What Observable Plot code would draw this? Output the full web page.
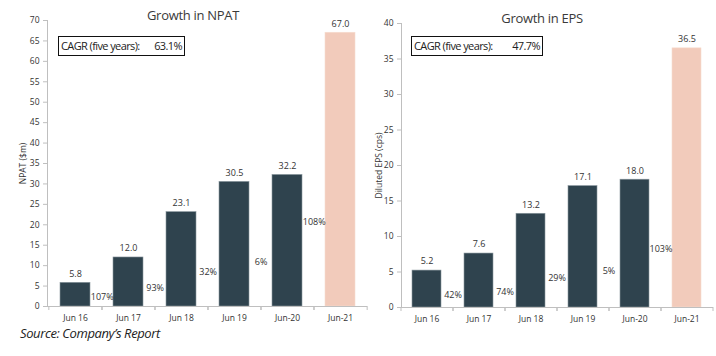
<!DOCTYPE html>
<html>
<head>
<meta charset="utf-8">
<script src="https://cdn.jsdelivr.net/npm/d3@7"></script>
<script src="https://cdn.jsdelivr.net/npm/@observablehq/plot@0.6"></script>
<style>
  body { margin: 0; background: #fff; }
  #wrap { position: relative; width: 716px; height: 356px; background: #fff; overflow: hidden; font-family: "Open Sans", sans-serif; }
  .pl { position: absolute; top: 0; }
  .title { position: absolute; font-size: 13px; letter-spacing: -0.3px; color: #3a3a3a; white-space: nowrap; transform: translateX(-50%); }
  .cagr { position: absolute; border: 1.5px solid #111; font-size: 11px; letter-spacing: -0.6px; color: #222; box-sizing: border-box; height: 20px; line-height: 17px; padding: 0 2px; }
  .cagr span.v { position: absolute; right: 2px; }
  .cap { position: absolute; left: 20px; top: 324px; font-style: italic; font-size: 13px; letter-spacing: -0.4px; color: #222; }
</style>
</head>
<body>
<div id="wrap"></div>
<script>
const years = ["Jun 16", "Jun 17", "Jun 18", "Jun 19", "Jun-20", "Jun-21"];
const npat = [5.8, 12.0, 23.1, 30.5, 32.2, 67.0];
const npatGrowth = ["107%", "93%", "32%", "6%", "108%"];
const npatGrowthAt = [2.2, 4.6, 8.3, 10.8, 20.6];
const eps = [5.2, 7.6, 13.2, 17.1, 18.0, 36.5];
const epsGrowth = ["42%", "74%", "29%", "5%", "103%"];
const epsGrowthAt = [1.7, 2.1, 4.2, 5.1, 8.2];
const npatTicks = [0, 5, 10, 15, 20, 25, 30, 35, 40, 45, 50, 55, 60, 65, 70];
const epsTicks = [0, 5, 10, 15, 20, 25, 30, 35, 40];
const npatCagr = "63.1%";
const epsCagr = "47.7%";

const dark = "#2f434e", peach = "#f2cbbb", axisGrey = "#bfbfbf";

function chart({values, growth, growthAt, ticks, ymax, label, width, ml, mr, mt, mb, lo}) {
  const height = 330;
  const step = (width - ml - mr) / years.length;
  const rows = years.map((y, i) => ({year: y, v: values[i], last: i === years.length - 1}));
  const grows = growth.map((g, i) => ({year: years[i], g, at: growthAt[i]}));
  return Plot.plot({
    width, height,
    marginLeft: ml, marginRight: mr, marginTop: mt, marginBottom: mb,
    style: {fontFamily: "Open Sans, sans-serif", fontSize: "9px", color: "#333", background: "transparent"},
    x: {domain: years, paddingInner: 0.44, paddingOuter: 0.22, label: null},
    y: {domain: [0, ymax], label: null},
    marks: [
      Plot.barY(rows, {x: "year", y: "v", fill: d => d.last ? peach : dark, stroke: d => d.last ? "#f6dccf" : "#8a979e", strokeWidth: 0.6}),
      Plot.text(rows, {x: "year", y: "v", text: d => d.v.toFixed(1), dy: -9, fontSize: 9, fill: "#333"}),
      Plot.text(grows, {x: "year", y: "at", text: "g", dx: step / 2, fontSize: 9, fill: "#333"}),
      Plot.ruleY([0], {stroke: axisGrey, strokeWidth: 1}),
      Plot.frame({anchor: "left", stroke: axisGrey}),
      Plot.axisY({ticks, tickSize: 4, tickPadding: 4, stroke: axisGrey, fill: "#333", fontSize: 8.5,
        label, labelAnchor: "center", labelArrow: "none", labelOffset: lo}),
      Plot.axisX({tickSize: 0, tickPadding: 8, fontSize: 8.5, fill: "#333"}),
      Plot.axisX({tickSize: 4, text: null, stroke: axisGrey, dx: -step / 2}),
      Plot.axisX({tickSize: 4, text: null, stroke: axisGrey, dx: step / 2})
    ]
  });
}

const wrap = document.getElementById("wrap");

const left = chart({values: npat, growth: npatGrowth, growthAt: npatGrowthAt, ticks: npatTicks, ymax: 70,
  label: "NPAT ($m)", width: 370, ml: 47, mr: 3, mt: 20, mb: 24, lo: 28});
left.classList.add("pl"); left.style.left = "0px";
wrap.appendChild(left);

const right = chart({values: eps, growth: epsGrowth, growthAt: epsGrowthAt, ticks: epsTicks, ymax: 40,
  label: "Diluted EPS (cps)", width: 356, ml: 41, mr: 3, mt: 23, mb: 23, lo: 26});
right.classList.add("pl"); right.style.left = "360px";
wrap.appendChild(right);

function addDiv(cls, html, style) {
  const d = document.createElement("div");
  d.className = cls; d.innerHTML = html;
  Object.assign(d.style, style);
  wrap.appendChild(d);
}
addDiv("title", "Growth in NPAT", {left: "193px", top: "6px"});
addDiv("title", "Growth in EPS", {left: "542px", top: "9px"});
addDiv("cagr", `CAGR (five years):<span class="v">${npatCagr}</span>`, {left: "58px", top: "36px", width: "127px"});
addDiv("cagr", `CAGR (five years):<span class="v">${epsCagr}</span>`, {left: "411px", top: "36px", width: "132px"});
addDiv("cap", "Source: Company’s Report", {});
</script>
</body>
</html>
